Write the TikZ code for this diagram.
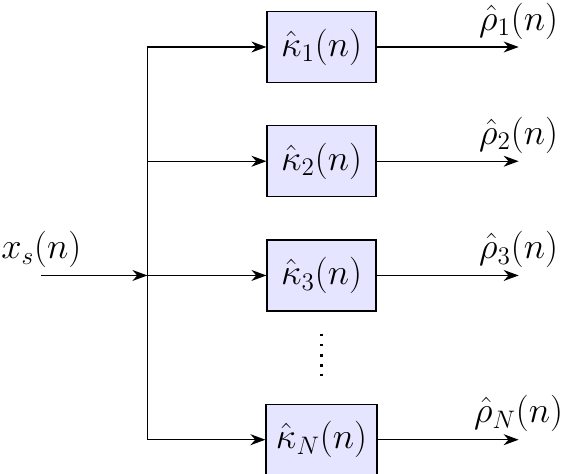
\documentclass[tikz,border=0pt]{standalone}
\usepackage{tikz}
\usetikzlibrary{arrows.meta, positioning, calc}

\begin{document}
\begin{tikzpicture}[
    kbox/.style={rectangle, draw=black, fill=blue!10, line width=0.7pt, minimum width=2.18cm, minimum height=1.42cm, inner xsep=0.2cm, font=\huge},
    lbl/.style={font=\huge, inner sep=4pt},
    line/.style={draw, line width=0.7pt, -{Stealth[length=3mm, width=2.2mm]}}
]
    \useasboundingbox (0,0) rectangle (11.32,9.46);

    \node [kbox] (k1) at (6.43,8.52) {$\hat{\kappa}_1(n)$};
    \node [kbox, below=0.84cm of k1] (k2) {$\hat{\kappa}_2(n)$};
    \node [kbox, below=0.84cm of k2] (k3) {$\hat{\kappa}_3(n)$};
    \node [kbox, below=1.84cm of k3] (kN) {$\hat{\kappa}_N(n)$};

    % branch point and input
    \coordinate [left=2.38cm of k3.west] (split);
    \coordinate [left=2.12cm of split] (xin);
    \coordinate (top) at (split |- k1);
    \coordinate (bot) at (split |- kN);

    % outputs
    \coordinate [right=2.84cm of k1.east] (o1);
    \coordinate [right=2.84cm of k2.east] (o2);
    \coordinate [right=2.84cm of k3.east] (o3);
    \coordinate (oN) at (o1 |- kN);

    \draw [line] (xin) node [lbl, above] {$x_s(n)$} -- (split);
    \draw [line width=0.7pt] (top) -- (bot);

    \draw [line] (top) -- (k1);
    \draw [line] (split |- k2) -- (k2);
    \draw [line] (split) -- (k3);
    \draw [line] (bot) -- (kN);

    \draw [line] (k1) -- (o1) node [lbl, above] {$\hat{\rho}_1(n)$};
    \draw [line] (k2) -- (o2) node [lbl, above] {$\hat{\rho}_2(n)$};
    \draw [line] (k3) -- (o3) node [lbl, above] {$\hat{\rho}_3(n)$};
    \draw [line] (kN) -- (oN) node [lbl, above] {$\hat{\rho}_N(n)$};

    \draw [line width=1.6pt, dash pattern=on 1.6pt off 4.1pt]
        ($(k3.south)!0.24!(kN.north)$) -- ($(k3.south)!0.7!(kN.north)$);

\end{tikzpicture}
\end{document}
